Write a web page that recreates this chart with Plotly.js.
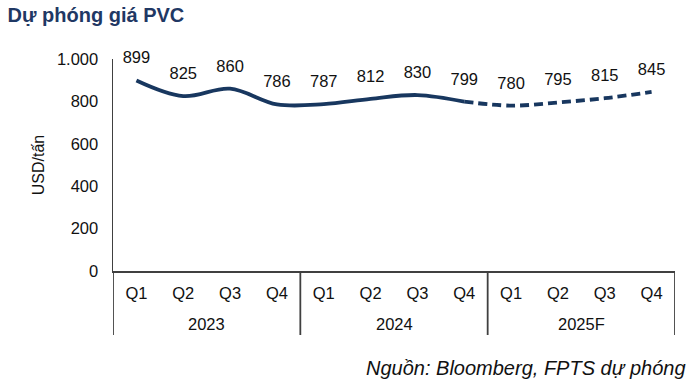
<!DOCTYPE html>
<html>
<head>
<meta charset="utf-8">
<script src="https://cdn.plot.ly/plotly-3.0.1.min.js"></script>
<style>html,body{margin:0;padding:0;background:#fff;}#chart{width:693px;height:387px;}</style>
</head>
<body>
<div id="chart"></div>
<script>
var years = ["2023","2023","2023","2023","2024","2024","2024","2024","2025F","2025F","2025F","2025F"];
var quarters = ["Q1","Q2","Q3","Q4","Q1","Q2","Q3","Q4","Q1","Q2","Q3","Q4"];
var prices = [899, 825, 860, 786, 787, 812, 830, 799, 780, 795, 815, 845];
var actualCount = 8; // 2023-2024 actual (solid), 2025F forecast (dashed)

var lineColor = "#18375F";
var axisColor = "#404040";
var font = "Liberation Sans, Arial, sans-serif";

// unique category keys for the x axis, shown as quarter labels
var keys = years.map(function (y, i) { return y + " " + quarters[i]; });

var solid = {
  type: "scatter", mode: "lines",
  x: keys.slice(0, actualCount),
  y: prices.slice(0, actualCount),
  line: {color: lineColor, width: 3.8, shape: "spline", smoothing: 1},
  hoverinfo: "skip", showlegend: false
};
var dashed = {
  type: "scatter", mode: "lines",
  x: keys.slice(actualCount - 1),
  y: prices.slice(actualCount - 1),
  line: {color: lineColor, width: 3.8, shape: "spline", smoothing: 1, dash: "9px,5px"},
  hoverinfo: "skip", showlegend: false
};
var labels = {
  type: "scatter", mode: "markers+text",
  x: keys,
  y: prices,
  text: prices.map(String),
  textposition: "top center",
  textfont: {family: font, size: 16.5, color: "#111"},
  marker: {size: 19, color: "rgba(0,0,0,0)"},
  cliponaxis: false,
  hoverinfo: "skip", showlegend: false
};

// year groups: label centred under its quarters, dividers at group edges
var groups = [];
years.forEach(function (y, i) {
  var g = groups[groups.length - 1];
  if (!g || g.name !== y) { groups.push({name: y, first: i, last: i}); }
  else { g.last = i; }
});
var annotations = groups.map(function (g) {
  return {
    text: g.name, xref: "x", yref: "paper",
    x: (g.first + g.last) / 2, y: -0.25, yanchor: "middle",
    showarrow: false, font: {family: font, size: 16.5, color: "#111"}
  };
});
var shapes = [];
groups.forEach(function (g, k) {
  var edges = k === 0 ? [g.first - 0.5, g.last + 0.5] : [g.last + 0.5];
  edges.forEach(function (e) {
    shapes.push({type: "line", xref: "x", yref: "paper", x0: e, x1: e, y0: 0, y1: -0.302,
      line: {color: axisColor, width: 1.8}});
  });
});
annotations.push({
  text: "<i>Nguồn: Bloomberg, FPTS dự phóng</i>",
  xref: "paper", yref: "paper",
  x: 1.023, xanchor: "right",
  y: -0.4575, yanchor: "middle",
  showarrow: false,
  font: {family: font, size: 20, color: "#111"}
});

var layout = {
  width: 693, height: 387,
  margin: {l: 113, r: 18, t: 59, b: 116},
  paper_bgcolor: "#fff", plot_bgcolor: "#fff",
  separators: ",.",
  font: {family: font, color: "#111"},
  title: {
    text: "<b>Dự phóng giá PVC</b>",
    font: {family: font, size: 20, color: "#1F3864"},
    x: 0.011, xref: "container", xanchor: "left",
    y: 0.962, yref: "container", yanchor: "middle"
  },
  xaxis: {
    type: "category",
    range: [-0.5, keys.length - 0.5],
    tickvals: keys, ticktext: quarters,
    showline: true, linecolor: axisColor, linewidth: 2,
    showgrid: false, zeroline: false,
    ticks: "outside", ticklen: 6, tickcolor: "rgba(0,0,0,0)",
    tickfont: {family: font, size: 16.5, color: "#111"},
    fixedrange: true
  },
  yaxis: {
    range: [0, 1000],
    tickvals: [0, 200, 400, 600, 800, 1000],
    tickformat: ",d",
    showline: true, linecolor: axisColor, linewidth: 1.5,
    showgrid: false, zeroline: false,
    ticks: "outside", ticklen: 10, tickcolor: "rgba(0,0,0,0)",
    tickfont: {family: font, size: 16.5, color: "#111"},
    title: {text: "USD/tấn", font: {family: font, size: 16, color: "#111"}, standoff: 8},
    fixedrange: true
  },
  shapes: shapes,
  annotations: annotations
};

Plotly.newPlot("chart", [solid, dashed, labels], layout, {displayModeBar: false, staticPlot: true});
</script>
</body>
</html>
